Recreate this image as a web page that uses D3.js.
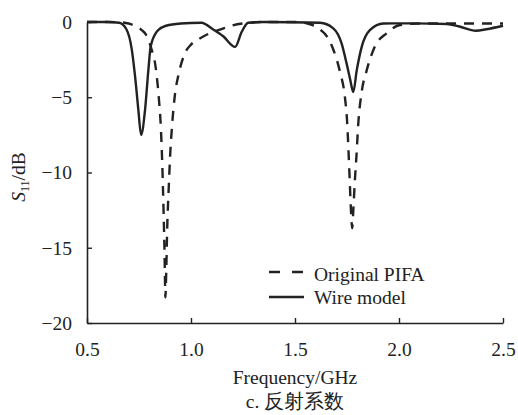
<!DOCTYPE html>
<html>
<head>
<meta charset="utf-8">
<script src="https://cdn.jsdelivr.net/npm/d3@7/dist/d3.min.js"></script>
<style>
  html, body { margin: 0; padding: 0; background: #fff; }
  svg { display: block; }
  text { font-family: "Liberation Serif", "Times New Roman", serif; fill: #222; }
</style>
</head>
<body>
<svg id="chart" width="518" height="415"></svg>
<script>
// Return loss of the original PIFA (dashed) and the wire model (solid)
const pifaFreq = [0.50, 0.60, 0.66, 0.70, 0.73, 0.76, 0.79, 0.81, 0.83, 0.845, 0.855, 0.862, 0.868, 0.873, 0.877,
  0.881, 0.886, 0.893, 0.90, 0.91, 0.923, 0.94, 0.97, 1.00, 1.03, 1.09, 1.15, 1.20, 1.28, 1.35,
  1.50, 1.56, 1.60, 1.625, 1.65, 1.685, 1.716, 1.74, 1.75, 1.757, 1.763, 1.769, 1.775,
  1.781, 1.788, 1.795, 1.805, 1.82, 1.845, 1.885, 1.94, 2.005, 2.10, 2.30, 2.50];
const pifaS11 = [0, 0, -0.02, -0.1, -0.25, -0.5, -1.0, -1.8, -3.0, -5.0, -7.0, -9.5, -12.5, -15.5, -18.3,
  -16.5, -13.5, -11.0, -8.8, -6.7, -4.8, -3.5, -2.1, -1.5, -1.2, -0.75, -0.45, -0.22, -0.05, 0,
  0, -0.1, -0.3, -0.55, -0.9, -1.86, -3.3, -5.0, -6.5, -8.5, -10.5, -12.5, -13.7,
  -12.3, -10.5, -9.0, -6.6, -4.7, -3.2, -1.6, -0.75, -0.2, -0.1, -0.1, -0.1];

const wireFreq = [0.50, 0.60, 0.655, 0.69, 0.715, 0.731, 0.747, 0.76, 0.779, 0.795, 0.806, 0.835, 0.88,
  0.95, 1.05, 1.107, 1.155, 1.212, 1.244, 1.275, 1.35, 1.62, 1.684, 1.724, 1.748, 1.765, 1.78,
  1.797, 1.821, 1.861, 1.925, 2.07, 2.23, 2.29, 2.37, 2.42, 2.50];
const wireS11 = [0, 0, -0.05, -0.5, -1.8, -3.6, -5.85, -7.5, -5.85, -3.2, -1.65, -0.65, -0.25,
  -0.1, -0.05, -0.5, -0.95, -1.65, -0.65, -0.05, 0, -0.05, -0.42, -1.42, -2.75, -3.8, -4.65,
  -3.2, -1.64, -0.53, -0.1, -0.09, -0.13, -0.3, -0.58, -0.48, -0.25];

const xTicks = [0.5, 1.0, 1.5, 2.0, 2.5];
const yTicks = [0, -5, -10, -15, -20];
const seriesNames = ["Original PIFA", "Wire model"];

const svg = d3.select("#chart");
const ink = "#222";
const fontSize = 19.5;

const x = d3.scaleLinear().domain([0.5, 2.5]).range([87, 503]);
const y = d3.scaleLinear().domain([-20, 0]).range([323, 22]);

// axes with inward ticks
const yAxis = d3.axisLeft(y).tickValues(yTicks).tickSizeInner(-5).tickSizeOuter(0)
  .tickPadding(15).tickFormat(d3.format("d"));
const xAxis = d3.axisBottom(x).tickValues(xTicks).tickSizeInner(-5).tickSizeOuter(0)
  .tickPadding(19).tickFormat(d3.format(".1f"));

const gy = svg.append("g").attr("transform", `translate(${x.range()[0]},0)`).call(yAxis);
const gx = svg.append("g").attr("transform", `translate(0,${y.range()[0]})`).call(xAxis);
[gx, gy].forEach(g => {
  g.select(".domain").attr("stroke", ink).attr("stroke-width", 1.6);
  g.selectAll(".tick line").attr("stroke", ink).attr("stroke-width", 1.4);
  g.selectAll(".tick text").attr("font-size", fontSize)
    .attr("font-family", '"Liberation Serif", serif').attr("fill", ink);
});

// curves
const line = d3.line().x(d => x(d[0])).y(d => y(d[1])).curve(d3.curveMonotoneX);
const pifa = pifaFreq.map((f, i) => [f, pifaS11[i]]);
const wire = wireFreq.map((f, i) => [f, wireS11[i]]);

svg.append("path").datum(wire).attr("d", line)
  .attr("fill", "none").attr("stroke", ink).attr("stroke-width", 2.4)
  .attr("stroke-linejoin", "round");
svg.append("path").datum(pifa).attr("d", line)
  .attr("fill", "none").attr("stroke", ink).attr("stroke-width", 2.4)
  .attr("stroke-dasharray", "10,8");

// legend
const legend = svg.append("g");
const legendRows = [
  { name: seriesNames[0], dash: "11,12", cy: 272, ty: 281 },
  { name: seriesNames[1], dash: null, cy: 297, ty: 304 }
];
legendRows.forEach(r => {
  legend.append("line").attr("x1", 269).attr("x2", 304).attr("y1", r.cy).attr("y2", r.cy)
    .attr("stroke", ink).attr("stroke-width", 2.4)
    .attr("stroke-dasharray", r.dash);
  legend.append("text").attr("x", 314).attr("y", r.ty).attr("font-size", fontSize).text(r.name);
});

// axis titles
const cx = (x.range()[0] + x.range()[1]) / 2;
svg.append("text").attr("x", cx).attr("y", 384).attr("text-anchor", "middle")
  .attr("font-size", fontSize).text("Frequency/GHz");
svg.append("text").attr("x", cx).attr("y", 408).attr("text-anchor", "middle")
  .attr("font-size", fontSize)
  .attr("font-family", '"Liberation Serif", "Noto Sans CJK SC", serif')
  .text("c. 反射系数");

const yt = svg.append("text").attr("transform", "translate(25,177) rotate(-90)")
  .attr("text-anchor", "middle").attr("font-size", fontSize);
yt.append("tspan").attr("font-style", "italic").text("S");
yt.append("tspan").attr("font-size", 12).attr("dy", 4).text("11");
yt.append("tspan").attr("dy", -4).text("/dB");
</script>
</body>
</html>
